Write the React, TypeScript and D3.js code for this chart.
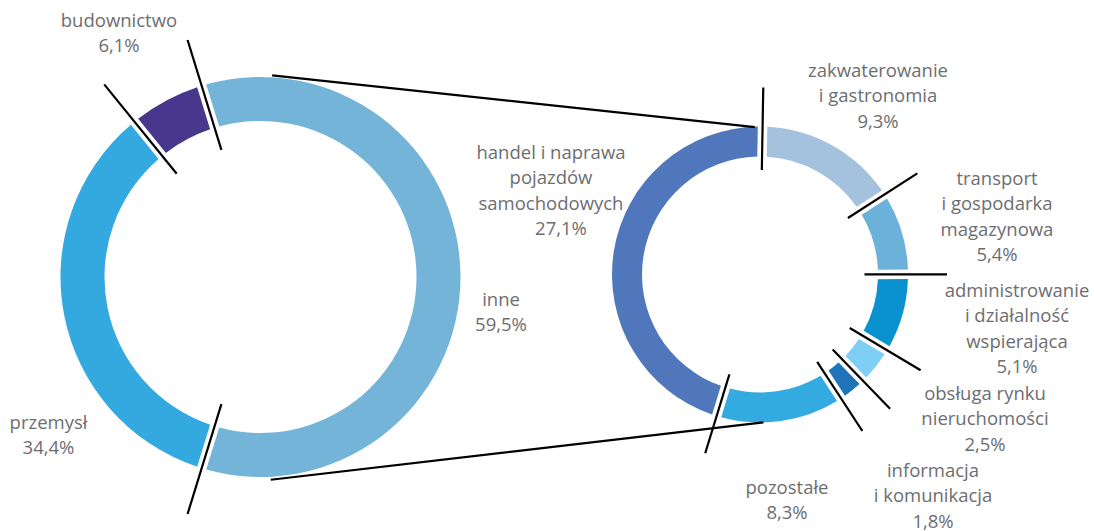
import React from "react";
import * as d3 from "d3";

// ---- data ----
const leftCategories: string[][] = [["inne"], ["przemysł"], ["budownictwo"]];
const leftValues: number[] = [59.5, 34.4, 6.1];

const rightCategories: string[][] = [
  ["zakwaterowanie", "i gastronomia"],
  ["transport", "i gospodarka", "magazynowa"],
  ["administrowanie", "i działalność", "wspierająca"],
  ["obsługa rynku", "nieruchomości"],
  ["informacja", "i komunikacja"],
  ["pozostałe"],
  ["handel i naprawa", "pojazdów", "samochodowych"],
];
const rightValues: number[] = [9.3, 5.4, 5.1, 2.5, 1.8, 8.3, 27.1];

// ---- styles / layout ----
const leftColors = ["#74b4d8", "#33a9e0", "#47388d"];
const rightColors = ["#a4c2de", "#6bb1da", "#0a91cf", "#7fcef3", "#1f74b9", "#33aae0", "#5077bc"];

const leftLabelPos = [
  { x: 501, y: 306, pctDx: 0 },
  { x: 48.5, y: 429, pctDx: 0 },
  { x: 119, y: 26.7, pctDx: 0 },
];
const rightLabelPos = [
  { x: 878, y: 77, pctDx: 0 },
  { x: 997, y: 185, pctDx: 0 },
  { x: 1017, y: 297, pctDx: 0 },
  { x: 985, y: 400, pctDx: 0 },
  { x: 933, y: 477, pctDx: 0 },
  { x: 787, y: 494, pctDx: 0 },
  { x: 551, y: 159, pctDx: 10 },
];

const LEFT = { cx: 260.5, cy: 277, rOut: 200, rIn: 156, lineIn: 133, lineOut: 248 };
const RIGHT = { cx: 760, cy: 274.5, rOut: 148, rIn: 118, lineIn: 104.5, lineOut: 187 };
const GAP = 9.5;
const LINE_H = 25.3;
const TEXT_COLOR = "#6d6e71";
const FONT = "'Open Sans', sans-serif";
const FONT_SIZE = 18.5;

const fmtPct = (v: number) => d3.format(".1f")(v).replace(".", ",") + "%";
const deg = (a: number) => (a * Math.PI) / 180;
const polar = (c: { cx: number; cy: number }, r: number, a: number): [number, number] => [
  c.cx + r * Math.sin(a),
  c.cy - r * Math.cos(a),
];

function Donut({
  geom,
  values,
  colors,
  startAngle,
}: {
  geom: typeof LEFT;
  values: number[];
  colors: string[];
  startAngle: number;
}) {
  const pie = d3
    .pie<number>()
    .sort(null)
    .value((d) => d)
    .startAngle(startAngle)
    .endAngle(startAngle + 2 * Math.PI);
  const arcs = pie(values);
  const arc = d3
    .arc<d3.PieArcDatum<number>>()
    .innerRadius(geom.rIn)
    .outerRadius(geom.rOut)
    .padRadius(geom.rOut)
    .padAngle(GAP / geom.rOut);
  return (
    <g>
      <g transform={`translate(${geom.cx},${geom.cy})`}>
        {arcs.map((a, i) => (
          <path key={i} d={arc(a) || ""} fill={colors[i]} />
        ))}
      </g>
      {arcs.map((a, i) => {
        const [x1, y1] = polar(geom, geom.lineIn, a.startAngle);
        const [x2, y2] = polar(geom, geom.lineOut, a.startAngle);
        return <line key={"l" + i} x1={x1} y1={y1} x2={x2} y2={y2} stroke="#000" strokeWidth={2.2} />;
      })}
    </g>
  );
}

function Label({ lines, value, pos }: { lines: string[]; value: number; pos: { x: number; y: number; pctDx: number } }) {
  const all = [...lines, fmtPct(value)];
  return (
    <text fontFamily={FONT} fontSize={FONT_SIZE} fill={TEXT_COLOR} textAnchor="middle">
      {all.map((t, i) => (
        <tspan key={i} x={pos.x + (i === all.length - 1 ? pos.pctDx : 0)} y={pos.y + i * LINE_H}>
          {t}
        </tspan>
      ))}
    </text>
  );
}

export default function App() {
  const leftTotal = d3.sum(leftValues);
  const leftStart = Math.PI / 2 - Math.PI * (leftValues[0] / leftTotal);
  const rightStart = deg(1);

  const lt = polar(LEFT, LEFT.rOut + 2, deg(3.3));
  const lb = polar(LEFT, LEFT.rOut + 3, deg(177.1));
  const rt = polar(RIGHT, RIGHT.rOut - 0.5, deg(-2));
  const rb = polar(RIGHT, RIGHT.rOut, deg(178.7));

  return (
    <div>
      <style>{`body{margin:0}`}</style>
      <svg width={1094} height={531} style={{ display: "block", background: "#fff" }}>
        <Donut geom={LEFT} values={leftValues} colors={leftColors} startAngle={leftStart} />
        <Donut geom={RIGHT} values={rightValues} colors={rightColors} startAngle={rightStart} />
        <line x1={lt[0]} y1={lt[1]} x2={rt[0]} y2={rt[1]} stroke="#000" strokeWidth={2.2} />
        <line x1={lb[0]} y1={lb[1]} x2={rb[0]} y2={rb[1]} stroke="#000" strokeWidth={2.2} />
        {leftCategories.map((c, i) => (
          <Label key={"L" + i} lines={c} value={leftValues[i]} pos={leftLabelPos[i]} />
        ))}
        {rightCategories.map((c, i) => (
          <Label key={"R" + i} lines={c} value={rightValues[i]} pos={rightLabelPos[i]} />
        ))}
      </svg>
    </div>
  );
}
